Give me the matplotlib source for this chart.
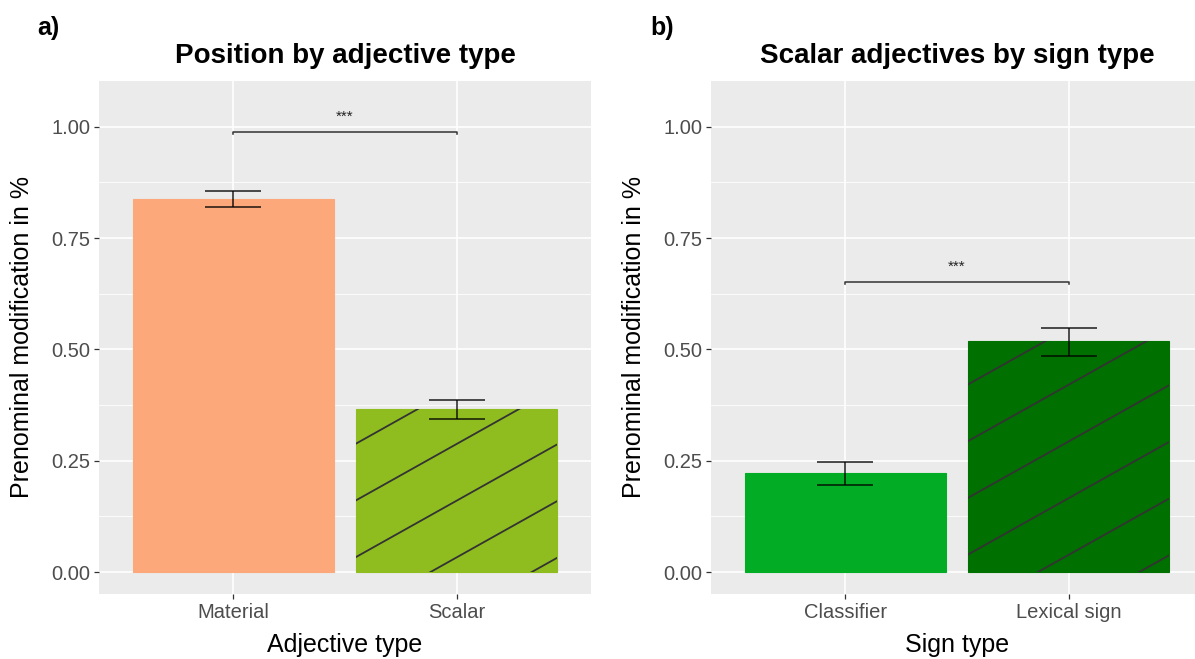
import matplotlib
matplotlib.use('Agg')
import matplotlib.pyplot as plt
from matplotlib.transforms import IdentityTransform
from matplotlib.lines import Line2D

plt.rcParams['font.family'] = ['Liberation Sans', 'DejaVu Sans']

# --- data (panel a) ---
adj_types = ['Material', 'Scalar']
adj_mean = [0.839, 0.366]
adj_low = [0.820, 0.344]
adj_high = [0.856, 0.386]
adj_colors = ['#FDA87A', '#8FBD1F']
adj_sig_y = 0.989

# --- data (panel b) ---
sign_types = ['Classifier', 'Lexical sign']
sign_mean = [0.223, 0.519]
sign_low = [0.196, 0.486]
sign_high = [0.247, 0.548]
sign_colors = ['#02AC24', '#007000']
sign_sig_y = 0.651

hatched = [False, True]
yticks = [0.0, 0.25, 0.5, 0.75, 1.0]

W, H = 1195, 659
fig = plt.figure(figsize=(W / 100, H / 100), dpi=100)
ax1 = fig.add_axes([99 / W, 1 - 594 / H, 492 / W, 513 / H])
ax2 = fig.add_axes([711 / W, 1 - 594 / H, 492 / W, 513 / H])


def stripes(ax, bar, x0, x1, top):
    # sparse diagonal stripes (ggpattern look), drawn in pixel space, clipped to bar
    (px0, py0), (px1, py1) = ax.transData.transform([(x0, 0), (x1, top)])
    slope = 0.56
    for k in range(60):
        c = 19.3 + 56.7 * k
        ya = H - (c - slope * px0)
        yb = H - (c - slope * px1)
        if max(ya, yb) < py0 or min(ya, yb) > py1:
            continue
        ln = Line2D([px0, px1], [ya, yb], transform=IdentityTransform(),
                    color='#333333', lw=1.3, zorder=2.5)
        ln.set_clip_path(bar)
        fig.add_artist(ln)


def panel(ax, cats, means, lo, hi, colors, sig_y, title, xlabel):
    x = list(range(1, len(cats) + 1))
    ax.set_facecolor('#EBEBEB')
    for s in ax.spines.values():
        s.set_visible(False)
    ax.set_xlim(0.4, 2.6)
    ax.set_ylim(-0.0494, 1.103)
    ax.set_xticks(x)
    ax.set_xticklabels(cats)
    ax.set_yticks(yticks)
    ax.set_yticklabels(['%.2f' % v for v in yticks])
    ax.set_yticks([0.125, 0.375, 0.625, 0.875], minor=True)
    ax.set_axisbelow(True)
    ax.grid(which='major', color='white', lw=1.2)
    ax.grid(which='minor', axis='y', color='white', lw=0.6)
    ax.tick_params(which='major', length=3.5, width=0.9, color='#333333',
                   labelcolor='#4D4D4D', labelsize=14.5)
    ax.tick_params(axis='x', pad=3)
    ax.tick_params(axis='y', pad=2.5)
    ax.tick_params(which='minor', length=0)

    bars = ax.bar(x, means, width=0.9, color=colors, edgecolor=colors,
                  linewidth=0.8, zorder=2)
    for i, b in enumerate(bars):
        if hatched[i]:
            stripes(ax, b, x[i] - 0.45, x[i] + 0.45, means[i])

    # error bars
    ax.vlines(x, lo, hi, color='black', alpha=0.75, lw=1.3, zorder=3)
    ax.hlines(lo, [v - 0.125 for v in x], [v + 0.125 for v in x],
              color='black', alpha=0.75, lw=1.3, zorder=3)
    ax.hlines(hi, [v - 0.125 for v in x], [v + 0.125 for v in x],
              color='black', alpha=0.75, lw=1.3, zorder=3)

    # significance bracket
    ax.plot([x[0], x[0], x[1], x[1]], [sig_y - 0.005, sig_y, sig_y, sig_y - 0.005],
            color='#333333', lw=1.1, zorder=3)
    ax.text((x[0] + x[1]) / 2, sig_y + 0.034, '***', ha='center', va='center',
            fontsize=11, color='#222222')

    ax.set_title(title, fontsize=20, fontweight='bold', pad=13)
    ax.set_xlabel(xlabel, fontsize=18, va='center')
    ax.xaxis.set_label_coords(0.5, -0.099)
    ax.set_ylabel('Prenominal modification in %', fontsize=18, va='center')
    ax.yaxis.set_label_coords(-0.156, 0.5)


panel(ax1, adj_types, adj_mean, adj_low, adj_high, adj_colors, adj_sig_y,
      'Position by adjective type', 'Adjective type')
panel(ax2, sign_types, sign_mean, sign_low, sign_high, sign_colors, sign_sig_y,
      'Scalar adjectives by sign type', 'Sign type')

fig.text(37 / W, 1 - 35 / H, 'a)', fontsize=18, fontweight='bold', va='baseline')
fig.text(650 / W, 1 - 35 / H, 'b)', fontsize=18, fontweight='bold', va='baseline')

fig.savefig('out.png', dpi=100)
